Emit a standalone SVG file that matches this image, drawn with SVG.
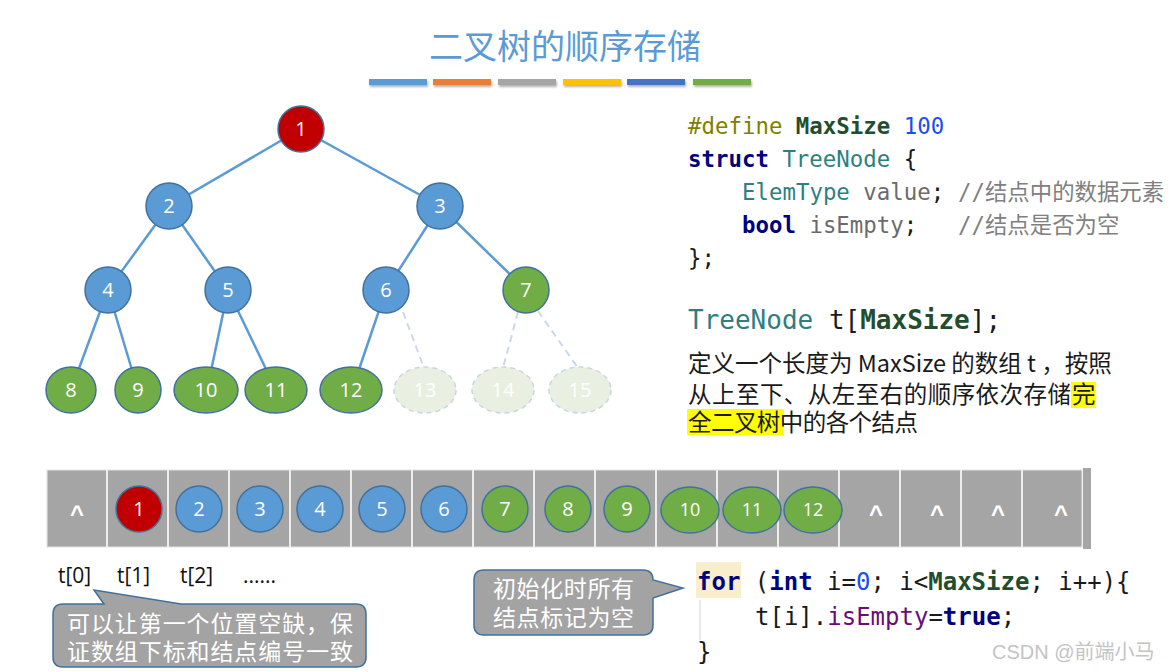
<svg xmlns="http://www.w3.org/2000/svg" width="1170" height="672" viewBox="0 0 1170 672">
<defs>
<style>
.edge{stroke:#5B9BD5;stroke-width:2.5;fill:none}
.dedge{stroke:#C9D8EA;stroke-width:2;stroke-dasharray:7 5;fill:none}
.blue{fill:#5B9BD5;stroke:#41719C;stroke-width:1.5}
.red{fill:#C00000;stroke:#41719C;stroke-width:1.5}
.green{fill:#70AD47;stroke:#41719C;stroke-width:1.5}
.ghost{fill:#E9F0E2;stroke:#C7D6E2;stroke-width:1.5;stroke-dasharray:5 4}
.num{font-family:"Open Sans","Noto Sans",sans-serif;font-size:20px;fill:#fff;text-anchor:middle}
.caret{font-family:"Liberation Sans",Arial,sans-serif;font-size:24px;font-weight:bold;fill:#fff;text-anchor:middle}
.code{font-family:"DejaVu Sans Mono","Noto Sans CJK SC",monospace;font-size:22.4px;fill:#1a1a1a}
.code2{font-family:"DejaVu Sans Mono","Noto Sans CJK SC",monospace;font-size:24px;fill:#1a1a1a}
.big{font-size:26px}
.kw{fill:#000080;font-weight:bold}
.ty{fill:#2F7F7F}
.mac{fill:#234E2E;font-weight:bold}
.cm{fill:#808080}
.gr{fill:#6B6B6B}
.cn{font-family:"Noto Sans CJK SC",sans-serif;font-size:23.5px;fill:#1a1a1a}
.callout{fill:#A3A3A3;stroke:#41719C;stroke-width:1.5}
.ctext{font-family:"Noto Sans CJK SC",sans-serif;font-size:23px;fill:#fff}
.idx{font-family:"Open Sans","Noto Sans",sans-serif;font-size:21px;fill:#111}
.small{font-size:18px}
</style>
<filter id="sh" x="-10%" y="-50%" width="120%" height="250%">
<feDropShadow dx="1" dy="2" stdDeviation="1" flood-color="#000" flood-opacity="0.3"/>
</filter>
</defs>
<rect width="1170" height="672" fill="#fff"/>

<g id="title">
<text x="565" y="59" text-anchor="middle" font-family="Noto Sans CJK SC,sans-serif" font-size="34" fill="#5B9BD5">二叉树的顺序存储</text>
<g filter="url(#sh)">
<rect x="369" y="79" width="58" height="6" fill="#5B9BD5"/>
<rect x="433" y="79" width="58" height="6" fill="#ED7D31"/>
<rect x="498" y="79" width="58" height="6" fill="#A5A5A5"/>
<rect x="563" y="79" width="58" height="6" fill="#FFC000"/>
<rect x="627" y="79" width="58" height="6" fill="#4472C4"/>
<rect x="693" y="79" width="58" height="6" fill="#70AD47"/>
</g>
</g>

<g id="connectors">
<line class="edge" x1="301" y1="129" x2="169" y2="206"/>
<line class="edge" x1="301" y1="129" x2="440" y2="206"/>
<line class="edge" x1="169" y1="206" x2="108" y2="290"/>
<line class="edge" x1="169" y1="206" x2="228" y2="290"/>
<line class="edge" x1="440" y1="206" x2="386" y2="290"/>
<line class="edge" x1="440" y1="206" x2="526" y2="290"/>
<line class="edge" x1="108" y1="290" x2="71" y2="390"/>
<line class="edge" x1="108" y1="290" x2="138" y2="390"/>
<line class="edge" x1="228" y1="290" x2="207" y2="390"/>
<line class="edge" x1="228" y1="290" x2="276" y2="390"/>
<line class="edge" x1="386" y1="290" x2="352" y2="390"/>
<line class="dedge" x1="403" y1="312" x2="424" y2="368"/>
<line class="dedge" x1="518" y1="312" x2="503" y2="368"/>
<line class="dedge" x1="538" y1="311" x2="578" y2="368"/>
</g>

<g id="n1"><circle class="red" cx="301" cy="129" r="23"/><text class="num" x="301" y="136">1</text></g>
<g id="n2"><circle class="blue" cx="169" cy="206" r="23"/><text class="num" x="169" y="213">2</text></g>
<g id="n3"><circle class="blue" cx="440" cy="206" r="23"/><text class="num" x="440" y="213">3</text></g>
<g id="n4"><circle class="blue" cx="108" cy="290" r="23"/><text class="num" x="108" y="297">4</text></g>
<g id="n5"><circle class="blue" cx="228" cy="290" r="23"/><text class="num" x="228" y="297">5</text></g>
<g id="n6"><circle class="blue" cx="386" cy="290" r="23"/><text class="num" x="386" y="297">6</text></g>
<g id="n7"><circle class="green" cx="526" cy="290" r="23"/><text class="num" x="526" y="297">7</text></g>
<g id="n8"><ellipse class="green" cx="71" cy="390" rx="25" ry="23"/><text class="num" x="71" y="397">8</text></g>
<g id="n9"><ellipse class="green" cx="138" cy="390" rx="23" ry="23"/><text class="num" x="138" y="397">9</text></g>
<g id="n10"><ellipse class="green" cx="206" cy="390" rx="32" ry="23"/><text class="num" x="206" y="397">10</text></g>
<g id="n11"><ellipse class="green" cx="276" cy="390" rx="31" ry="23"/><text class="num" x="276" y="397">11</text></g>
<g id="n12"><ellipse class="green" cx="351" cy="390" rx="31" ry="23"/><text class="num" x="351" y="397">12</text></g>
<g id="n13"><ellipse class="ghost" cx="425" cy="390" rx="31" ry="23"/><text class="num" x="425" y="397">13</text></g>
<g id="n14"><ellipse class="ghost" cx="503" cy="390" rx="31" ry="23"/><text class="num" x="503" y="397">14</text></g>
<g id="n15"><ellipse class="ghost" cx="580" cy="390" rx="31" ry="23"/><text class="num" x="580" y="397">15</text></g>

<g id="code-struct">
<text class="code" x="688" y="134"><tspan fill="#808000">#define</tspan> <tspan class="mac">MaxSize</tspan> <tspan fill="#1750EB">100</tspan></text>
<text class="code" x="688" y="167"><tspan class="kw">struct</tspan> <tspan class="ty">TreeNode</tspan> {</text>
<text class="code" x="742" y="200"><tspan class="ty">ElemType</tspan> <tspan class="gr">value</tspan>; <tspan class="cm" x="958">//结点中的数据元素</tspan></text>
<text class="code" x="742" y="233"><tspan class="kw">bool</tspan> <tspan class="gr">isEmpty</tspan>;<tspan class="cm" x="958">//结点是否为空</tspan></text>
<text class="code" x="688" y="266">};</text>
<text class="code big" x="688" y="329"><tspan class="ty">TreeNode</tspan> t[<tspan class="mac">MaxSize</tspan>];</text>
</g>

<g id="description">
<rect x="1071" y="382" width="25" height="26" fill="#FFFF00"/>
<rect x="687" y="409" width="97" height="26" fill="#FFFF00"/>
<text class="cn" x="688" y="372">定义一个长度为 MaxSize 的数组 t ，按照</text>
<text class="cn" x="688" y="403" textLength="383">从上至下、从左至右的顺序依次存储</text>
<text class="cn" x="1072" y="403">完</text>
<text class="cn" x="688" y="431" textLength="230">全二叉树中的各个结点</text>
</g>

<g id="array">
<rect x="47" y="470" width="1035" height="77" fill="#A5A5A5" stroke="#E4E4E4" stroke-width="1"/>
<rect x="1083" y="468" width="8" height="81" fill="#A5A5A5"/>
<g stroke="#EDEDED" stroke-width="2">
<line x1="107" y1="470" x2="107" y2="547"/>
<line x1="168" y1="470" x2="168" y2="547"/>
<line x1="229" y1="470" x2="229" y2="547"/>
<line x1="290" y1="470" x2="290" y2="547"/>
<line x1="351" y1="470" x2="351" y2="547"/>
<line x1="412" y1="470" x2="412" y2="547"/>
<line x1="473" y1="470" x2="473" y2="547"/>
<line x1="534" y1="470" x2="534" y2="547"/>
<line x1="595" y1="470" x2="595" y2="547"/>
<line x1="656" y1="470" x2="656" y2="547"/>
<line x1="717" y1="470" x2="717" y2="547"/>
<line x1="778" y1="470" x2="778" y2="547"/>
<line x1="839" y1="470" x2="839" y2="547"/>
<line x1="900" y1="470" x2="900" y2="547"/>
<line x1="961" y1="470" x2="961" y2="547"/>
<line x1="1022" y1="470" x2="1022" y2="547"/>
</g>
<text class="caret" x="77" y="522">^</text>
<g id="a1"><circle class="red" cx="139" cy="509" r="23"/><text class="num" x="139" y="516">1</text></g>
<g id="a2"><circle class="blue" cx="199" cy="509" r="23"/><text class="num" x="199" y="516">2</text></g>
<g id="a3"><circle class="blue" cx="260" cy="509" r="23"/><text class="num" x="260" y="516">3</text></g>
<g id="a4"><circle class="blue" cx="320" cy="509" r="23"/><text class="num" x="320" y="516">4</text></g>
<g id="a5"><circle class="blue" cx="382" cy="509" r="23"/><text class="num" x="382" y="516">5</text></g>
<g id="a6"><circle class="blue" cx="444" cy="509" r="23"/><text class="num" x="444" y="516">6</text></g>
<g id="a7"><circle class="green" cx="505" cy="509" r="23"/><text class="num" x="505" y="516">7</text></g>
<g id="a8"><circle class="green" cx="568" cy="509" r="23"/><text class="num" x="568" y="516">8</text></g>
<g id="a9"><ellipse class="green" cx="627" cy="509" rx="23" ry="23"/><text class="num" x="627" y="516">9</text></g>
<g id="a10"><ellipse class="green" cx="690" cy="510" rx="29" ry="23"/><text class="num small" x="690" y="516">10</text></g>
<g id="a11"><ellipse class="green" cx="752" cy="510" rx="29" ry="23"/><text class="num small" x="752" y="516">11</text></g>
<g id="a12"><ellipse class="green" cx="813" cy="510" rx="29" ry="23"/><text class="num small" x="813" y="516">12</text></g>
<text class="caret" x="876" y="522">^</text>
<text class="caret" x="937" y="522">^</text>
<text class="caret" x="998" y="522">^</text>
<text class="caret" x="1061" y="522">^</text>
</g>

<g id="indices">
<text class="idx" x="58" y="583">t[0]</text>
<text class="idx" x="117" y="583">t[1]</text>
<text class="idx" x="180" y="583">t[2]</text>
<text class="idx" x="243" y="583">......</text>
</g>

<g id="callout1">
<path class="callout" d="M63,604 L104,604 L94,590 L181,604 L356,604 Q366,604 366,614 L366,657 Q366,667 356,667 L63,667 Q53,667 53,657 L53,614 Q53,604 63,604 Z"/>
<text class="ctext" x="67" y="632" textLength="286">可以让第一个位置空缺，保</text>
<text class="ctext" x="67" y="660" textLength="286">证数组下标和结点编号一致</text>
</g>

<g id="callout2">
<path class="callout" d="M484,570 L643,570 Q653,570 653,580 L683,588 L653,598 L653,625 Q653,635 643,635 L484,635 Q474,635 474,625 L474,580 Q474,570 484,570 Z"/>
<text class="ctext" x="493" y="597" textLength="141">初始化时所有</text>
<text class="ctext" x="493" y="626" textLength="141">结点标记为空</text>
</g>

<g id="code-loop">
<rect x="696" y="562" width="45" height="36" fill="#F8EECB"/>
<line x1="700" y1="600" x2="700" y2="640" stroke="#E2E2E2" stroke-width="1.5"/>
<text class="code2" x="697" y="590"><tspan class="kw">for</tspan> (<tspan class="kw">int</tspan> i=<tspan fill="#1750EB">0</tspan>; i&lt;<tspan class="mac">MaxSize</tspan>; i++){</text>
<text class="code2" x="755" y="625">t[i].<tspan fill="#660E7A">isEmpty</tspan>=<tspan class="kw">true</tspan>;</text>
<text class="code2" x="697" y="660">}</text>
</g>

<text id="watermark" x="992" y="659" font-family="Liberation Sans,Noto Sans CJK SC,sans-serif" font-size="20" fill="#C4C4C4">CSDN @前端小马</text>
</svg>
